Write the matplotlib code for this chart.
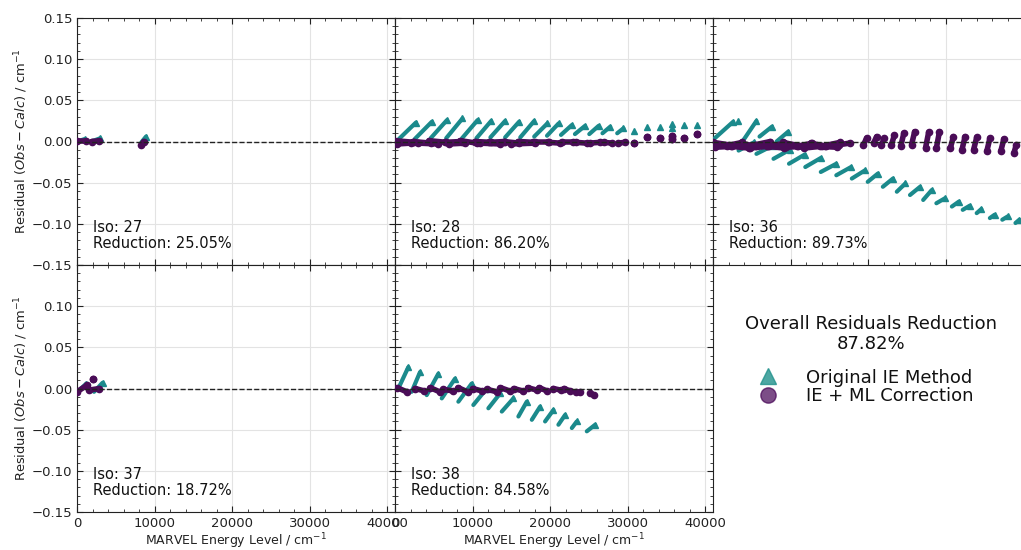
import matplotlib
matplotlib.use("Agg")
import matplotlib.pyplot as plt
from matplotlib.lines import Line2D
from matplotlib.ticker import AutoMinorLocator, MultipleLocator

TEAL = "#1b8a8c"
PURPLE = "#4a0c57"

# ---------------- data (residual streaks) ----------------
# Each entry: start x, start y, end x, end y of a streak of points
# Iso 27
iso27_ie_x0 = [200, 2000, 8300]
iso27_ie_y0 = [0.0005, 0.0005, -0.001]
iso27_ie_x1 = [1000, 3000, 8900]
iso27_ie_y1 = [0.003, 0.004, 0.006]
iso27_ml_x0 = [0, 1900, 8300]
iso27_ml_y0 = [0.001, 0.000, -0.004]
iso27_ml_x1 = [1100, 2900, 8600]
iso27_ml_y1 = [0.001, 0.001, 0.000]

# Iso 28
iso28_ie_x0 = [500, 2550, 4600, 6600, 8650, 10500, 12300, 14200, 16150, 17950, 19600, 21400, 23200, 25050, 26750, 28650,
               30850, 32550, 34200, 35750, 35750, 37300, 38950]
iso28_ie_y0 = [0.003, 0.003, 0.004, 0.004, 0.004, 0.004, 0.005, 0.005, 0.005, 0.006, 0.007, 0.008, 0.009, 0.009, 0.010, 0.010,
               0.013, 0.018, 0.018, 0.021, 0.016, 0.020, 0.020]
iso28_ie_x1 = [2700, 4750, 6700, 8700, 10650, 12400, 14200, 16000, 17950, 19650, 21100, 22800, 24500, 26250, 27750, 29450,
               30850, 32550, 34200, 35750, 35750, 37300, 38950]
iso28_ie_y1 = [0.023, 0.024, 0.026, 0.028, 0.026, 0.025, 0.025, 0.024, 0.025, 0.022, 0.022, 0.020, 0.019, 0.019, 0.018, 0.016,
               0.013, 0.018, 0.018, 0.021, 0.016, 0.020, 0.020]
iso28_ml_x0 = [0, 2300, 4400, 6400, 8400, 10300, 12100, 14000, 15900, 17800, 19800, 21500, 23300, 25100, 26900, 28800,
               300, 3000, 7000, 11000, 15000,
               30800, 32500, 34200, 35750, 35750, 37300, 38950]
iso28_ml_y0 = [0.001, 0.000, 0.001, -0.001, 0.001, 0.000, -0.001, 0.000, 0.000, -0.001, -0.001, -0.001, -0.001, -0.002, -0.001, -0.002,
               -0.003, -0.002, -0.003, -0.002, -0.003,
               -0.002, 0.005, 0.004, 0.007, 0.003, 0.004, 0.009]
iso28_ml_x1 = [2500, 4600, 6600, 8600, 10600, 12400, 14200, 16000, 18000, 19700, 21300, 23000, 24700, 26400, 28000, 29600,
               2000, 5500, 9000, 13500, 18000,
               30800, 32500, 34200, 35750, 35750, 37300, 38950]
iso28_ml_y1 = [-0.001, -0.002, -0.001, 0.000, -0.002, -0.001, 0.000, -0.002, -0.001, -0.001, -0.002, -0.001, -0.002, -0.001, -0.002, -0.001,
               -0.002, -0.003, -0.002, -0.003, -0.002,
               -0.002, 0.005, 0.004, 0.007, 0.003, 0.004, 0.009]

# Iso 36
iso36_ie_x0 = [0, 3200, 3800, 6000, 8200,
               3300, 5600, 7800, 9800, 11900, 13900, 15900, 17900,
               19950, 21900, 23700, 25400, 27100, 28800, 30800, 32200, 34000, 35700, 37300, 39000]
iso36_ie_y0 = [0.002, 0.025, 0.000, 0.006, 0.000,
               -0.011, -0.015, -0.021, -0.027, -0.031, -0.037, -0.041, -0.045,
               -0.049, -0.055, -0.061, -0.065, -0.071, -0.075, -0.079, -0.083, -0.087, -0.093, -0.095, -0.099]
iso36_ie_x1 = [2600, 3200, 5600, 7600, 9700,
               5300, 7700, 9900, 11800, 13900, 15900, 17800, 19600,
               21250, 23200, 24800, 26700, 28200, 29900, 31700, 33100, 34600, 36300, 38000, 39500]
iso36_ie_y1 = [0.024, 0.025, 0.025, 0.018, 0.012,
               -0.001, -0.005, -0.010, -0.016, -0.020, -0.027, -0.031, -0.035,
               -0.039, -0.045, -0.051, -0.055, -0.059, -0.069, -0.073, -0.078, -0.082, -0.089, -0.091, -0.095]
iso36_ml_x0 = [0, 1800, 3600, 5400, 7200, 9000, 10800, 12600, 14400, 16200,
               200, 2500, 4800, 7100, 9400, 11700, 14000,
               19400, 20700, 21700, 23000, 24200, 25600, 27400, 28800, 30600, 32100, 33600, 35300, 37100, 38800]
iso36_ml_y0 = [-0.001, -0.005, -0.002, -0.004, -0.006, -0.001, -0.006, -0.002, -0.005, -0.004,
               -0.007, -0.006, -0.008, -0.006, -0.007, -0.008, -0.006,
               -0.004, -0.002, -0.004, -0.004, -0.006, -0.004, -0.008, -0.008, -0.008, -0.010, -0.010, -0.012, -0.012, -0.014]
iso36_ml_x1 = [2000, 3800, 5600, 7400, 9200, 11000, 12800, 14600, 16400, 17600,
               2300, 4600, 6900, 9200, 11500, 13800, 16000,
               19800, 21100, 22100, 23400, 24600, 26000, 27800, 29200, 31000, 32500, 34000, 35700, 37500, 39100]
iso36_ml_y1 = [-0.004, -0.001, -0.006, 0.000, -0.002, -0.005, -0.002, -0.006, -0.001, -0.002,
               -0.006, -0.008, -0.006, -0.008, -0.006, -0.006, -0.007,
               0.004, 0.006, 0.004, 0.008, 0.010, 0.012, 0.011, 0.012, 0.006, 0.006, 0.005, 0.004, 0.003, -0.004]

# Iso 37
iso37_ie_x0 = [300, 2200]
iso37_ie_y0 = [-0.002, -0.004]
iso37_ie_x1 = [1200, 3300]
iso37_ie_y1 = [0.006, 0.007]
iso37_ml_x0 = [0, 1500, 2100]
iso37_ml_y0 = [-0.004, -0.002, 0.011]
iso37_ml_x1 = [1300, 2900, 2100]
iso37_ml_y1 = [0.004, 0.000, 0.011]

# Iso 38
iso38_ie_x0 = [430, 2150, 4090, 6030, 8170, 10100, 12040, 13770, 15910, 17640, 19350, 21070, 22800, 24730]
iso38_ie_y0 = [0.000, -0.004, -0.008, -0.012, -0.016, -0.020, -0.024, -0.028, -0.034, -0.038, -0.040, -0.044, -0.048, -0.052]
iso38_ie_x1 = [1720, 3230, 5590, 7740, 9890, 11830, 13550, 15270, 16990, 18710, 20430, 21940, 23440, 25810]
iso38_ie_y1 = [0.026, 0.020, 0.018, 0.012, 0.006, 0.000, -0.006, -0.012, -0.016, -0.022, -0.026, -0.032, -0.040, -0.044]
iso38_ml_x0 = [300, 2600, 4550, 6250, 8150, 10000, 11900, 13600, 15300, 17100, 18600, 20400, 21800, 23400, 25200]
iso38_ml_y0 = [0.001, 0.000, 0.001, -0.001, 0.001, 0.000, -0.001, 0.001, 0.000, 0.001, 0.001, 0.000, 0.000, -0.004, -0.006]
iso38_ml_x1 = [1500, 3800, 5750, 7450, 9350, 11200, 13100, 14800, 16500, 18300, 19600, 21400, 22600, 23800, 25600]
iso38_ml_y1 = [-0.004, -0.003, -0.004, -0.003, -0.004, -0.003, -0.004, -0.003, -0.003, -0.002, -0.003, -0.002, -0.003, -0.004, -0.008]

isotopologues = ["27", "28", "36", "37", "38"]
reductions = ["25.05%", "86.20%", "89.73%", "18.72%", "84.58%"]
overall_reduction = "87.82%"
series_labels = ["Original IE Method", "IE + ML Correction"]

panel_data = [
    (iso27_ie_x0, iso27_ie_y0, iso27_ie_x1, iso27_ie_y1, iso27_ml_x0, iso27_ml_y0, iso27_ml_x1, iso27_ml_y1),
    (iso28_ie_x0, iso28_ie_y0, iso28_ie_x1, iso28_ie_y1, iso28_ml_x0, iso28_ml_y0, iso28_ml_x1, iso28_ml_y1),
    (iso36_ie_x0, iso36_ie_y0, iso36_ie_x1, iso36_ie_y1, iso36_ml_x0, iso36_ml_y0, iso36_ml_x1, iso36_ml_y1),
    (iso37_ie_x0, iso37_ie_y0, iso37_ie_x1, iso37_ie_y1, iso37_ml_x0, iso37_ml_y0, iso37_ml_x1, iso37_ml_y1),
    (iso38_ie_x0, iso38_ie_y0, iso38_ie_x1, iso38_ie_y1, iso38_ml_x0, iso38_ml_y0, iso38_ml_x1, iso38_ml_y1),
]

# ---------------- figure ----------------
W, H = 1021, 550
fig = plt.figure(figsize=(W / 100, H / 100), dpi=100)

left_px = [77, 395, 713]
col_w = 318
top_px = [18, 265]
row_h = 247


def make_ax(r, c):
    l = left_px[c] / W
    b = 1 - (top_px[r] + row_h) / H
    return fig.add_axes([l, b, col_w / W, row_h / H])


def draw_streaks(ax, x0, y0, x1, y1, color, marker, lw, ms, z, every):
    for a, b, c, d in zip(x0, y0, x1, y1):
        ax.plot([a, c], [b, d], color=color, lw=lw, solid_capstyle="round",
                marker=marker, ms=ms, mec=color, mfc=color, markevery=every, zorder=z)


positions = [(0, 0), (0, 1), (0, 2), (1, 0), (1, 1)]
yticks = [-0.15, -0.10, -0.05, 0.0, 0.05, 0.10, 0.15]
for i, (r, c) in enumerate(positions):
    ax = make_ax(r, c)
    d = panel_data[i]
    draw_streaks(ax, d[0], d[1], d[2], d[3], TEAL, "^", 3.0, 4.5, 3, [1])
    draw_streaks(ax, d[4], d[5], d[6], d[7], PURPLE, "o", 4.0, 4.5, 4, None)
    ax.axhline(0, color="#222222", ls="--", lw=1.0, zorder=5)
    ax.set_xlim(0, 41000)
    ax.set_ylim(-0.15, 0.15)
    ax.set_yticks(yticks)
    ax.xaxis.set_major_locator(MultipleLocator(10000))
    ax.xaxis.set_minor_locator(AutoMinorLocator(5))
    ax.yaxis.set_minor_locator(AutoMinorLocator(5))
    ax.tick_params(which="both", direction="in", top=True, right=True, labelsize=9.5, colors="#222222")
    ax.tick_params(which="major", length=4, width=0.8)
    ax.tick_params(which="minor", length=2, width=0.6)
    ax.grid(True, which="major", color="#e3e3e3", lw=0.8, zorder=0)
    ax.set_axisbelow(True)
    for s in ax.spines.values():
        s.set_color("#222222")
        s.set_linewidth(0.8)
    if c == 0:
        labels = ["\u22120.15", "\u22120.10", "\u22120.05", "0.00", "0.05", "0.10", "0.15"]
        if r == 1:
            labels[-1] = ""
        ax.set_yticklabels(labels)
        ax.set_ylabel(r"Residual ($\mathit{Obs} - \mathit{Calc}$) / cm$^{-1}$", fontsize=9.4,
                      color="#222222", labelpad=1)
    else:
        ax.set_yticklabels([])
    if r == 1:
        ax.set_xlabel(r"MARVEL Energy Level / cm$^{-1}$", fontsize=9, color="#222222", labelpad=1)
    else:
        ax.set_xticklabels([])
    ax.text(0.05, 0.055, f"Iso: {isotopologues[i]}\nReduction: {reductions[i]}",
            transform=ax.transAxes, fontsize=10.5, ha="left", va="bottom",
            color="#111111", linespacing=1.1)

# legend panel
lax = make_ax(1, 2)
lax.axis("off")
lax.text(0.497, 0.72, f"Overall Residuals Reduction\n{overall_reduction}", transform=lax.transAxes,
         ha="center", va="center", multialignment="center", fontsize=13, color="#111111", linespacing=1.15)
handles = [
    Line2D([], [], ls="none", marker="^", ms=11, color="#21918c", alpha=0.8, mec="#21918c"),
    Line2D([], [], ls="none", marker="o", ms=11, color="#440154", alpha=0.7, mec="#440154"),
]
leg = lax.legend(handles, series_labels, loc="center left", bbox_to_anchor=(0.135, 0.506), frameon=False,
                 fontsize=13, labelspacing=0.05, handletextpad=1.5,
                 handlelength=1.3, borderpad=0.0, borderaxespad=0.0)
for t in leg.get_texts():
    t.set_color("#111111")

fig.savefig("out.png", dpi=100)
